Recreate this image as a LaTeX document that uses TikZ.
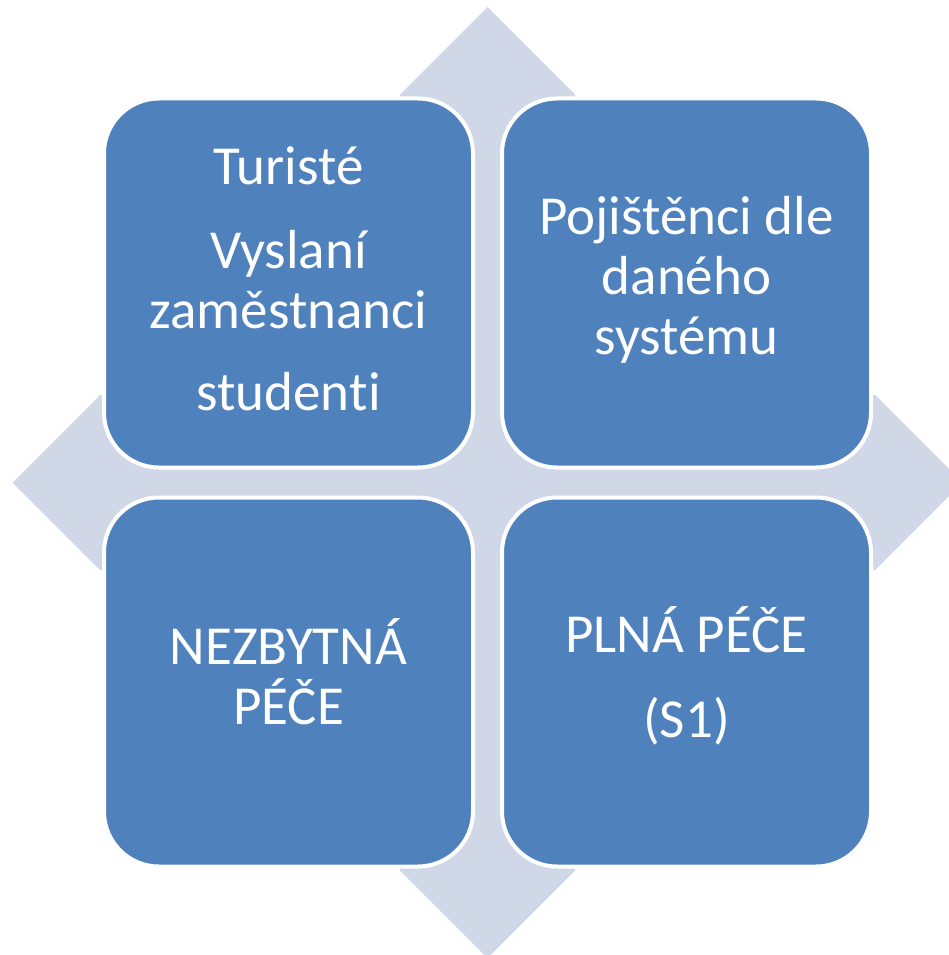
\documentclass[tikz,border=0pt]{standalone}
\usepackage{fontspec}
\setmainfont{Carlito}[Ligatures={NoCommon,NoContextual}]
\usepackage{tikz}
\usepackage{xcolor}
\definecolor{boxblue}{HTML}{4F81BD}
\definecolor{crossgray}{HTML}{D0D8E8}

\begin{document}
\begin{tikzpicture}[
            x = 1pt, y = -1pt, % one unit per pixel, y downwards
            box/.style = {shape=rectangle, rounded corners=55pt, draw=white,
                line width=4pt, fill=boxblue, minimum width=369pt,
                minimum height=369pt, text=white, align=center,
                font=\fontsize{55}{60}\selectfont, inner sep=0pt}
        ]
\useasboundingbox (0,0) rectangle (949,955);

% background cross with four arrow heads
\fill[crossgray] (487.5,7) -- (575,94.5) -- (575,395) -- (875,395)
    -- (962.5,482.5) -- (875,570) -- (575,570) -- (575,870.5)
    -- (487.5,958) -- (400,870.5) -- (400,570) -- (100,570)
    -- (12.5,482.5) -- (100,395) -- (400,395) -- (400,94.5) -- cycle;

\node[box, text depth=9pt] (TL) at (288.5,283) {Turisté\\[24pt]Vyslaní\\zaměstnanci\\[22pt]studen\kern0pt ti};
\node[box, text depth=16pt] (TR) at (686.5,283) {Pojištěnci dle\\daného\\systému};
\node[box, text depth=20pt] (BL) at (288.5,682) {NEZBYTNÁ\\PÉČE};
\node[box, text depth=19pt] (BR) at (686.5,682) {PLNÁ PÉČE\\[25pt](S1)};
\end{tikzpicture}
\end{document}
